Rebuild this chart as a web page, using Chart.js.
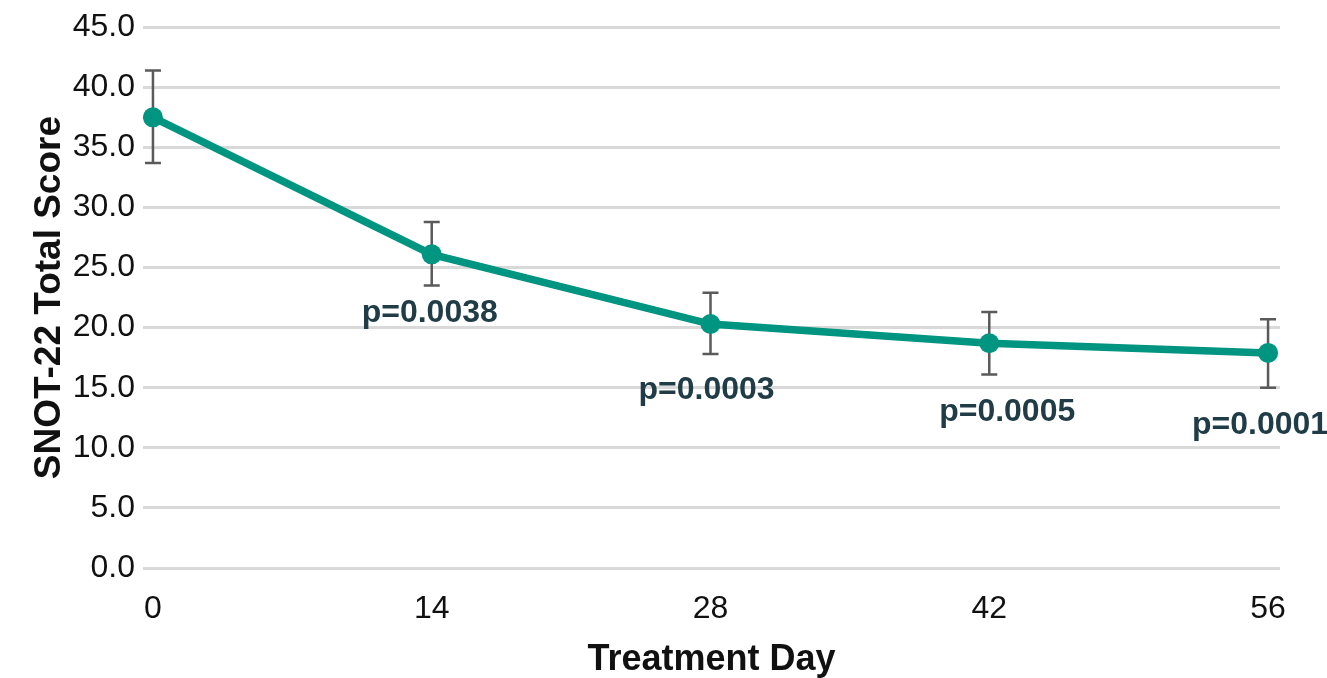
<!DOCTYPE html>
<html><head><meta charset="utf-8">
<script src="https://cdn.jsdelivr.net/npm/chart.js@4.4.0/dist/chart.umd.min.js"></script>
<style>html,body{margin:0;padding:0;background:#fff}#wrap{width:1327px;height:678px}</style>
</head><body><div id="wrap"><canvas id="c" width="1327" height="678"></canvas></div>
<script>
const days = [0, 14, 28, 42, 56];
const meanScore = [37.5, 26.1, 20.3, 18.7, 17.9];
const errUpper = [41.4, 28.8, 22.9, 21.3, 20.7];
const errLower = [33.7, 23.5, 17.8, 16.1, 15.0];
const pLabels = [null, 'p=0.0038', 'p=0.0003', 'p=0.0005', 'p=0.0001'];
const pLabelX = [null, 13.9, 27.8, 42.9, 55.6];
const pLabelY = [null, 21.2, 14.8, 13.0, 11.9];
const yTicks = [0, 5, 10, 15, 20, 25, 30, 35, 40, 45];

const errorBars = {
  id: 'errorBars',
  beforeDatasetsDraw(chart) {
    const {ctx, scales: {x, y}} = chart;
    ctx.save();
    ctx.strokeStyle = '#5a5a5a';
    ctx.lineWidth = 2.5;
    days.forEach((d, i) => {
      const px = x.getPixelForValue(d);
      const t = y.getPixelForValue(errUpper[i]);
      const b = y.getPixelForValue(errLower[i]);
      ctx.beginPath();
      ctx.moveTo(px, t); ctx.lineTo(px, b);
      ctx.moveTo(px - 8, t); ctx.lineTo(px + 8, t);
      ctx.moveTo(px - 8, b); ctx.lineTo(px + 8, b);
      ctx.stroke();
    });
    ctx.restore();
  },
  afterDatasetsDraw(chart) {
    const {ctx, scales: {x, y}} = chart;
    ctx.save();
    ctx.fillStyle = '#203c46';
    ctx.font = 'bold 32px "Liberation Sans", Arial, sans-serif';
    ctx.textAlign = 'center';
    ctx.textBaseline = 'middle';
    pLabels.forEach((t, i) => {
      if (!t) return;
      ctx.fillText(t, x.getPixelForValue(pLabelX[i]), y.getPixelForValue(pLabelY[i]));
    });
    ctx.restore();
  }
};

new Chart(document.getElementById('c'), {
  type: 'line',
  data: {
    datasets: [{
      data: days.map((d, i) => ({x: d, y: meanScore[i]})),
      borderColor: '#009581',
      backgroundColor: '#009581',
      borderWidth: 7.5,
      pointRadius: 10,
      pointHoverRadius: 10,
      pointBorderWidth: 0,
      tension: 0
    }]
  },
  options: {
    responsive: false,
    animation: false,
    events: [],
    layout: {padding: {left: 8, right: 47, top: 24, bottom: 0}},
    plugins: {legend: {display: false}, tooltip: {enabled: false}},
    scales: {
      x: {
        type: 'linear', min: -0.5, max: 56.6,
        afterBuildTicks(s) { s.ticks = days.map(v => ({value: v})); },
        afterFit(s) { s.height = 110; },
        grid: {display: false, drawTicks: false},
        border: {display: false},
        ticks: {color: '#111', font: {family: '"Liberation Sans", Arial, sans-serif', size: 32}, padding: 22, callback: v => String(v), maxRotation: 0, autoSkip: false},
        title: {display: true, text: 'Treatment Day', color: '#111', font: {family: '"Liberation Sans", Arial, sans-serif', size: 36, weight: 'bold', lineHeight: 1.0}, padding: {top: 0, bottom: 0}}
      },
      y: {
        min: 0, max: 45,
        afterBuildTicks(s) { s.ticks = yTicks.map(v => ({value: v})); },
        afterFit(s) { s.width = 135; },
        grid: {color: '#d9d9d9', lineWidth: 3, drawTicks: false},
        border: {display: false},
        ticks: {color: '#111', font: {family: '"Liberation Sans", Arial, sans-serif', size: 32}, padding: 8, callback: v => v.toFixed(1)},
        title: {display: true, text: 'SNOT-22 Total Score', color: '#111', font: {family: '"Liberation Sans", Arial, sans-serif', size: 37, weight: 'bold'}, padding: {top: 20, bottom: 0}}
      }
    }
  },
  plugins: [errorBars]
});
</script></body></html>
